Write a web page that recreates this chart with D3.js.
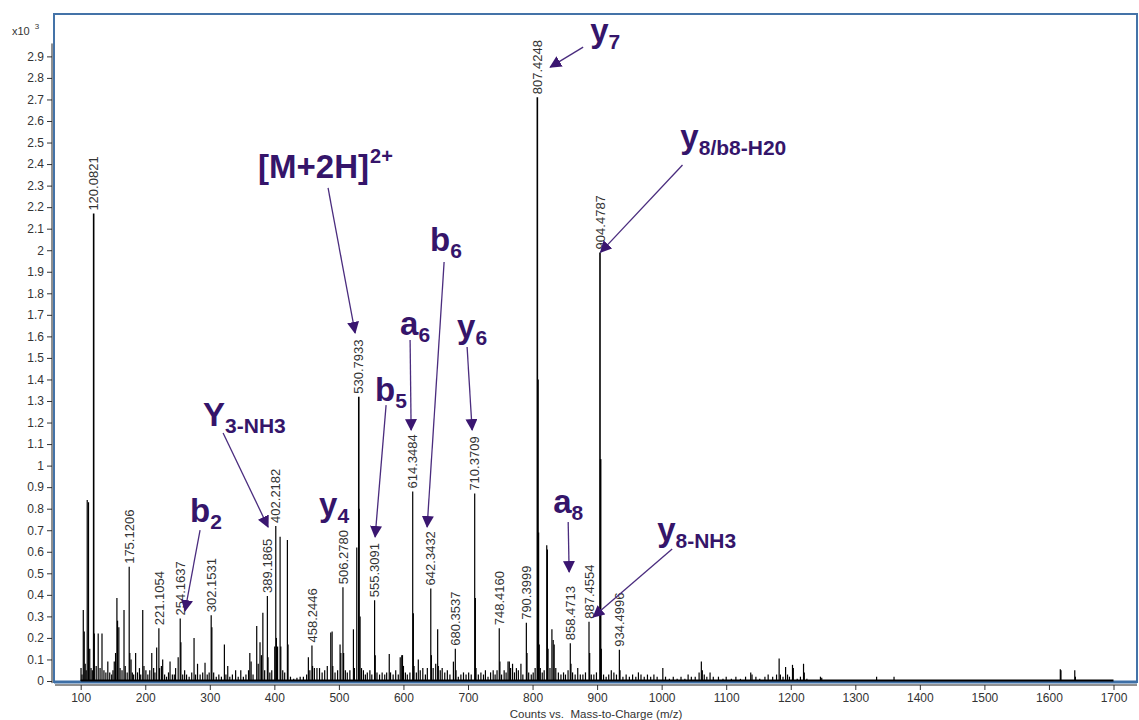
<!DOCTYPE html>
<html>
<head>
<meta charset="utf-8">
<script src="https://cdn.jsdelivr.net/npm/d3@7/dist/d3.min.js"></script>
<style>
  body { margin: 0; background: #fff; }
  svg { display: block; font-family: Arial, "Liberation Sans", sans-serif; }
</style>
</head>
<body>
<svg id="chart" width="1139" height="720"></svg>
<script>
// ---- data -------------------------------------------------------------
// x axis ticks (m/z) and y axis ticks (counts, x10^3)
const xTicks = d3.range(1, 18).map(i => i * 100);
const yTicks = d3.range(0, 30).map(i => i / 10);

// labelled centroid peaks: [m/z, intensity x10^3]
const labelledPeaks = [
  [120.0821, 2.17], [175.1206, 0.53], [221.1054, 0.245], [254.1637, 0.29],
  [302.1531, 0.305], [389.1865, 0.395], [402.2182, 0.72], [458.2446, 0.165],
  [506.2780, 0.435], [530.7933, 1.32], [555.3091, 0.375], [614.3484, 0.88],
  [642.3432, 0.43], [680.3537, 0.15], [710.3709, 0.87], [748.4160, 0.245],
  [790.3999, 0.27], [807.4248, 2.71], [858.4713, 0.175], [887.4554, 0.275],
  [904.4787, 1.99], [934.4996, 0.145]
];

// remaining (unlabelled) peaks: [m/z, intensity x10^3]
const otherPeaks = [
  [100.5,0.06],[102,0.03],[104,0.33],[105.5,0.23],[107,0.08],[108.5,0.05],[110.1,0.84],[112.1,0.83],
  [114,0.15],[116,0.06],[118,0.05],[121.1,0.22],[124,0.07],[127.1,0.22],[130,0.06],[133,0.22],
  [136,0.05],[139,0.04],[142,0.09],[145,0.04],[148,0.03],[150,0.05],[152,0.09],[154,0.13],
  [156.1,0.385],[157.1,0.28],[159.1,0.25],[161,0.06],[164,0.05],[167.1,0.33],[169,0.07],
  [172,0.04],[176.1,0.13],[178,0.1],[180,0.04],[182,0.03],[185.1,0.13],[188,0.04],[191,0.06],
  [193,0.03],[196.1,0.33],[198,0.07],[201,0.05],[204,0.03],[207,0.05],[210.1,0.13],[213,0.06],
  [215,0.04],[217.7,0.155],[222.1,0.06],[225,0.07],[227,0.1],[230,0.03],[233,0.02],[236,0.04],
  [238.4,0.09],[242,0.03],[245,0.03],[247,0.06],[251,0.11],[255.2,0.18],[258,0.03],[261,0.05],
  [264,0.03],[268,0.02],[272,0.04],[275.6,0.2],[278,0.03],[281,0.08],[285,0.03],[289,0.04],
  [292.6,0.085],[296,0.03],[299,0.04],[303.2,0.25],[306,0.04],[310,0.02],[314,0.03],[318,0.02],
  [322.6,0.17],[325,0.03],[327.8,0.07],[331,0.02],[335,0.03],[340,0.05],[344,0.02],[348,0.05],
  [352,0.02],[356,0.03],[360,0.05],[362,0.13],[364,0.09],[367,0.03],[372.7,0.255],[375,0.08],
  [377.8,0.18],[380,0.12],[382.2,0.317],[385,0.05],[390.2,0.11],[393,0.04],[396,0.05],
  [400.6,0.16],[403.2,0.2],[405,0.16],[408.9,0.67],[410,0.16],[413,0.05],[416,0.04],
  [420.2,0.655],[421.2,0.17],[425,0.02],[430,0.01],[435,0.015],[440,0.02],[445,0.02],[450,0.03],
  [452.7,0.11],[455,0.05],[459.2,0.07],[462,0.06],[466,0.06],[470,0.06],[474,0.04],[478,0.05],
  [482,0.07],[487.4,0.225],[489.5,0.23],[490.5,0.07],[494,0.04],[498,0.05],[501.8,0.17],
  [503,0.13],[507.3,0.13],[510,0.05],[513,0.04],[517,0.05],[522.5,0.24],[524,0.06],
  [527.7,0.62],[531.3,0.8],[532.8,0.3],[535,0.06],[538,0.05],[541,0.03],[544,0.04],[548,0.05],
  [551,0.03],[556.3,0.12],[559,0.04],[563,0.03],[567,0.04],[571,0.03],[574,0.04],[578,0.125],
  [580,0.04],[584,0.03],[588,0.05],[592,0.03],[595,0.11],[597.4,0.12],[598.5,0.12],[600,0.07],
  [603,0.04],[606,0.03],[610,0.04],[615.35,0.315],[616.4,0.07],[620,0.04],[623,0.1],[626,0.05],
  [630,0.06],[634,0.03],[637,0.06],[643.3,0.12],[646,0.06],[650,0.08],[653,0.24],[654,0.07],
  [657,0.05],[660,0.06],[664,0.04],[668,0.05],[672,0.03],[677.4,0.09],[681.4,0.05],[685,0.02],
  [689,0.03],[693,0.04],[697,0.03],[701,0.04],[705,0.03],[711.4,0.385],[712.4,0.06],[716,0.03],
  [720,0.04],[724,0.03],[727,0.05],[731,0.02],[735,0.04],[739,0.05],[742,0.03],[745,0.05],
  [749.4,0.09],[752,0.03],[756,0.05],[759,0.04],[762,0.09],[764,0.09],[766,0.06],[769,0.08],
  [772,0.04],[775,0.06],[778,0.05],[782,0.08],[785,0.03],[791.4,0.13],[794,0.04],[798,0.03],
  [801,0.04],[804,0.06],[808.43,1.40],[809.4,0.69],[810.4,0.17],[812,0.06],[815,0.04],[818,0.05],
  [822,0.63],[823,0.61],[824,0.15],[827,0.06],[830,0.24],[832,0.19],[833.5,0.17],[836,0.06],
  [840,0.04],[844,0.03],[848,0.04],[851,0.03],[855,0.05],[859.5,0.08],[862,0.04],[866,0.03],
  [870,0.06],[874,0.03],[878,0.03],[882,0.04],[888.5,0.13],[891,0.03],[895,0.03],[899,0.04],
  [905.48,1.03],[906.5,0.15],[910,0.03],[914,0.02],[918,0.03],[922,0.05],[926,0.04],[930,0.03],
  [935.5,0.05],[940,0.02],[945,0.03],[950,0.02],[955,0.03],[960,0.02],[964,0.04],[968,0.03],
  [973,0.02],[978,0.03],[983,0.02],[988,0.03],[993,0.02],[1001.8,0.06],[1006,0.02],[1012,0.01],
  [1018,0.02],[1024,0.01],[1030,0.02],[1036,0.01],[1041,0.03],[1046,0.02],[1052,0.02],
  [1058,0.04],[1061.5,0.09],[1063,0.05],[1066,0.03],[1070,0.02],[1075,0.04],[1080,0.02],
  [1088,0.02],[1095,0.01],[1100,0.02],[1108,0.01],[1115,0.02],[1122,0.01],[1130,0.02],
  [1138,0.04],[1140,0.03],[1146,0.02],[1152,0.01],[1160,0.02],[1165,0.03],[1172,0.02],
  [1178,0.03],[1182,0.105],[1184,0.03],[1188,0.02],[1192,0.065],[1195,0.03],[1198,0.02],
  [1202.7,0.075],[1204,0.06],[1210,0.01],[1215,0.02],[1219.8,0.08],[1221,0.04],[1225,0.01],
  [1246,0.02],[1248,0.015],[1333,0.02],[1360,0.02],[1617.6,0.055],[1618.6,0.05],[1640,0.05],
  [1641,0.02]
];

// fragment-ion annotations, anchored in data space (m/z, intensity)
const annotations = [
  { main: "y",      sub: "7",        at: [889.2, 2.967], from: [878.4, 2.943], to: [827.3, 2.85] },
  { main: "y",      sub: "8/b8-H20", at: [1029, 2.474],  from: [1032.3, 2.396], to: [905.2, 1.99] },
  { main: "[M+2H]", sup: "2+",       at: [374.8, 2.335], from: [483.2, 2.289], to: [525.1, 1.616] },
  { main: "Y",      sub: "3-NH3",    at: [289.6, 1.184], from: [320.6, 1.151], to: [390.3, 0.715] },
  { main: "b",      sub: "2",        at: [269.4, 0.738], from: [284.9, 0.701], to: [261.6, 0.325] },
  { main: "y",      sub: "4",        at: [469.3, 0.766] },
  { main: "b",      sub: "5",        at: [556.0, 1.30],  from: [573.1, 1.281], to: [556.1, 0.669] },
  { main: "a",      sub: "6",        at: [594.8, 1.606], from: [610.3, 1.583], to: [611.9, 1.165] },
  { main: "b",      sub: "6",        at: [641.3, 1.996], from: [663.0, 1.945], to: [636.7, 0.715] },
  { main: "y",      sub: "6",        at: [683.1, 1.592], from: [698.6, 1.551], to: [706.4, 1.165] },
  { main: "a",      sub: "8",        at: [831.9, 0.78],  from: [855.2, 0.738], to: [856.7, 0.506] },
  { main: "y",      sub: "8-NH3",    at: [993.0, 0.65],  from: [1016.3, 0.613], to: [893.9, 0.297] }
];

// ---- layout -----------------------------------------------------------
const svg = d3.select("#chart");
const frame = { left: 54, top: 14, right: 1137, bottom: 682 };
const x = d3.scaleLinear().domain([100, 1700]).range([80.7, 1113.5]);
const y = d3.scaleLinear().domain([0, 3.1]).range([681, 13.3]);

const inkText = "#333";
const ionColor = "#35156a";
const arrowColor = "#4a2c7e";

// plot frame
svg.append("rect")
  .attr("x", frame.left).attr("y", frame.top)
  .attr("width", frame.right - frame.left).attr("height", frame.bottom - frame.top)
  .attr("fill", "none").attr("stroke", "#4473a8").attr("stroke-width", 2);
svg.append("line")
  .attr("x1", frame.left).attr("x2", frame.right)
  .attr("y1", frame.bottom).attr("y2", frame.bottom)
  .attr("stroke", "#3d6fa6").attr("stroke-width", 3);

// y axis
const yAxis = svg.append("g")
  .attr("transform", "translate(52,0)")
  .call(d3.axisLeft(y).tickValues(yTicks).tickSize(5).tickPadding(3)
        .tickFormat(d => String(+d.toFixed(1))));
yAxis.select(".domain").remove();
yAxis.append("line")
  .attr("x1", 0).attr("x2", 0)
  .attr("y1", y(-0.01)).attr("y2", y(2.96))
  .attr("stroke", "#222").attr("stroke-width", 1);
yAxis.selectAll(".tick line").attr("stroke", "#333");
yAxis.selectAll(".tick text")
  .attr("fill", inkText).style("font-size", "12px")
  .style("font-family", "Arial, 'Liberation Sans', sans-serif");

// exponent label of the y axis
const expo = svg.append("text").attr("x", 12).attr("y", 35)
  .attr("fill", inkText).style("font-size", "11px");
expo.append("tspan").text("x10");
expo.append("tspan").attr("dx", 5).attr("dy", -6).style("font-size", "8px").text("3");

// x axis
const xAxis = svg.append("g")
  .attr("transform", "translate(0,685)")
  .call(d3.axisBottom(x).tickValues(xTicks).tickSize(5).tickPadding(3)
        .tickFormat(d3.format("d")));
xAxis.select(".domain").remove();
xAxis.append("line")
  .attr("x1", 55).attr("x2", frame.right)
  .attr("y1", 0).attr("y2", 0)
  .attr("stroke", "#222").attr("stroke-width", 1);
xAxis.selectAll(".tick line").attr("stroke", "#333");
xAxis.selectAll(".tick text")
  .attr("fill", inkText).style("font-size", "12px")
  .style("font-family", "Arial, 'Liberation Sans', sans-serif");

svg.append("text")
  .attr("x", 596).attr("y", 718)
  .attr("text-anchor", "middle")
  .attr("xml:space", "preserve")
  .style("white-space", "pre")
  .attr("fill", inkText).style("font-size", "11.5px")
  .text("Counts vs.  Mass-to-Charge (m/z)");

// ---- spectrum ---------------------------------------------------------
const spectrum = svg.append("g");

// baseline of the acquired range
spectrum.append("line")
  .attr("x1", x(100)).attr("x2", x(1700))
  .attr("y1", y(0) - 0.5).attr("y2", y(0) - 0.5)
  .attr("stroke", "#000").attr("stroke-width", 2);

const allPeaks = otherPeaks.concat(labelledPeaks);
spectrum.selectAll("line.peak")
  .data(allPeaks)
  .join("line")
  .attr("class", "peak")
  .attr("x1", d => x(d[0])).attr("x2", d => x(d[0]))
  .attr("y1", y(0)).attr("y2", d => y(d[1]))
  .attr("stroke", "#000")
  .attr("stroke-width", d => d[1] > 1 ? 1.6 : 1.2);

// m/z labels above labelled peaks
spectrum.selectAll("text.mz")
  .data(labelledPeaks)
  .join("text")
  .attr("class", "mz")
  .attr("transform", d => `translate(${x(d[0])},${y(d[1]) - 3}) rotate(-90)`)
  .attr("dy", "0.36em")
  .attr("fill", inkText)
  .style("font-size", "13px")
  .text(d => d[0].toFixed(4));

// ---- ion annotations --------------------------------------------------
const defs = svg.append("defs");
defs.append("marker")
  .attr("id", "head")
  .attr("markerUnits", "userSpaceOnUse")
  .attr("viewBox", "0 0 12 12")
  .attr("refX", 11).attr("refY", 6)
  .attr("markerWidth", 12).attr("markerHeight", 12)
  .attr("orient", "auto")
  .append("path")
  .attr("d", "M0,0 L12,6 L0,12 Z")
  .attr("fill", "#3a1670");

const ions = svg.append("g");
ions.selectAll("line.arrow")
  .data(annotations.filter(a => a.from))
  .join("line")
  .attr("class", "arrow")
  .attr("x1", a => x(a.from[0])).attr("y1", a => y(a.from[1]))
  .attr("x2", a => x(a.to[0])).attr("y2", a => y(a.to[1]))
  .attr("stroke", arrowColor).attr("stroke-width", 1.3)
  .attr("marker-end", "url(#head)");

annotations.forEach(a => {
  const t = ions.append("text")
    .attr("x", x(a.at[0])).attr("y", y(a.at[1]))
    .attr("fill", ionColor)
    .style("font-weight", "bold");
  t.append("tspan").style("font-size", "33px").text(a.main);
  if (a.sub) t.append("tspan").attr("dy", 7).style("font-size", "21px").text(a.sub);
  if (a.sup) t.append("tspan").attr("dx", 1).attr("dy", -15).style("font-size", "20px").text(a.sup);
});
</script>
</body>
</html>
